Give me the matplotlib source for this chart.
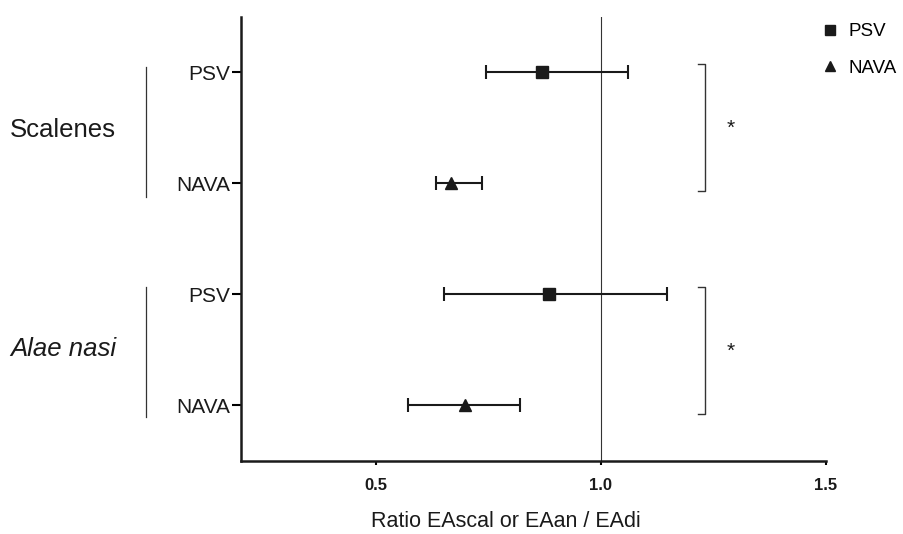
import matplotlib
matplotlib.use("Agg")
import matplotlib.pyplot as plt
from matplotlib.lines import Line2D
import matplotlib.transforms as mtransforms

plt.rcParams['font.family'] = ['Liberation Sans', 'DejaVu Sans']

# data
groups = ["Scalenes", "Alae nasi"]
modes = ["PSV", "NAVA"]
ypos = [4, 3, 2, 1]
ylabels = ["PSV", "NAVA", "PSV", "NAVA"]
means = [0.869, 0.667, 0.884, 0.698]
lower = [0.744, 0.633, 0.651, 0.571]
upper = [1.060, 0.736, 1.147, 0.820]
markers = ["s", "^", "s", "^"]
sig_marks = ["*", "*"]

fig = plt.figure(figsize=(9.04, 5.34), dpi=100)
ax = fig.add_axes([0.2666, 0.1367, 0.6471, 0.8315])

for y, m, lo, hi, mk in zip(ypos, means, lower, upper, markers):
    ax.errorbar(m, y, xerr=[[m - lo], [hi - m]], fmt=mk, color='#1a1a1a',
                ecolor='#1a1a1a', elinewidth=1.5, capsize=4.8, capthick=1.5,
                markersize=8.5 if mk == "s" else 9)

ax.axvline(1.0, color='#333333', lw=0.8, zorder=0)

ax.set_xlim(0.2, 1.5)
ax.set_ylim(0.5, 4.5)
ax.set_xticks([0.5, 1.0, 1.5])
ax.set_xticklabels(["0.5", "1.0", "1.5"], fontsize=12, fontweight='bold', color='#1a1a1a')
ax.set_yticks(ypos)
ax.set_yticklabels(ylabels, fontsize=15, color='#1a1a1a')
ax.tick_params(axis='y', length=6.5, width=1.5, pad=1)
ax.tick_params(axis='x', length=3, width=1.5, pad=9)
ax.set_xlabel("Ratio EAscal or EAan / EAdi", fontsize=15.5, color='#1a1a1a')
ax.xaxis.set_label_coords(0.453, -0.112)

for s in ['top', 'right']:
    ax.spines[s].set_visible(False)
for s in ['left', 'bottom']:
    ax.spines[s].set_linewidth(1.8)
    ax.spines[s].set_color('#1a1a1a')

# significance brackets
for (ytop, ybot), star in zip([(4.08, 2.93), (2.07, 0.92)], sig_marks):
    ax.plot([1.215, 1.231, 1.231, 1.215], [ytop, ytop, ybot, ybot],
            color='#333333', lw=1.0, clip_on=False)
    ax.text(1.289, (ytop + ybot) / 2 - 0.01, star, fontsize=15, ha='center',
            va='center', color='#1a1a1a')

# group labels with vertical lines, left of the axis
trans = mtransforms.blended_transform_factory(ax.transAxes, ax.transData)
for (ytop, ybot), name, style in zip([(4.05, 2.88), (2.07, 0.9)], groups,
                                     ['normal', 'italic']):
    ax.plot([-0.162, -0.162], [ytop, ybot], color='#333333', lw=0.9,
            transform=trans, clip_on=False)
    ax.text(-0.395, (ytop + ybot) / 2 + 0.02, name, fontsize=18.5, style=style,
            ha='left', va='center', transform=trans, color='#1a1a1a')

handles = [Line2D([], [], ls='none', marker='s', color='#1a1a1a', markersize=7),
           Line2D([], [], ls='none', marker='^', color='#1a1a1a', markersize=7.5)]
fig.legend(handles, modes, loc='upper left', bbox_to_anchor=(0.9094, 0.957),
           frameon=False, fontsize=13.5, handlelength=0.8, handletextpad=0.6,
           labelspacing=1.05, borderaxespad=0, borderpad=0)

fig.savefig("out.png", dpi=100)
